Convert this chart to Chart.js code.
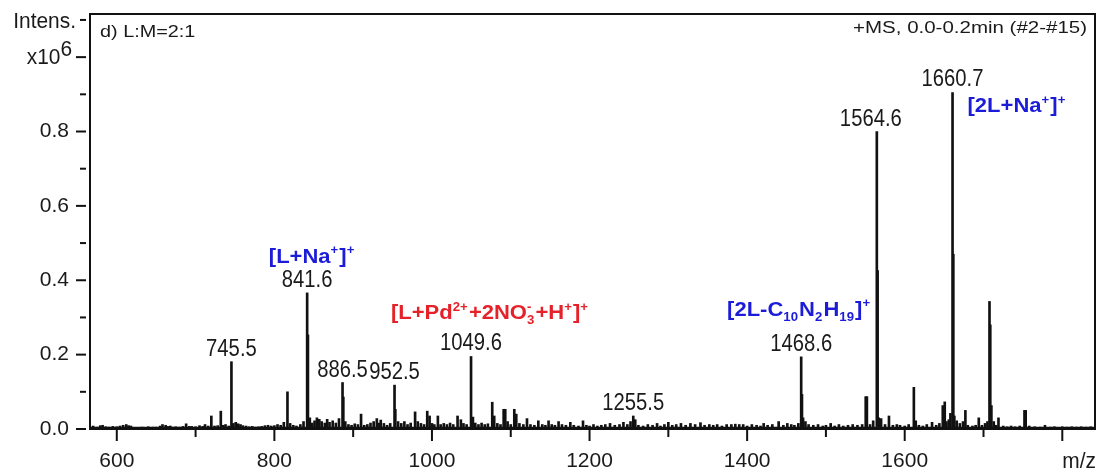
<!DOCTYPE html>
<html>
<head>
<meta charset="utf-8">
<script src="https://cdn.jsdelivr.net/npm/chart.js@4.4.1/dist/chart.umd.min.js"></script>
<style>
  body { margin: 0; background: #fff; }
  #wrap { width: 1103px; height: 473px; }
</style>
</head>
<body>
<div id="wrap"><canvas id="chart"></canvas></div>
<script>
// m/z of each stick and its intensity (x10^6)
const mzValues = [
  566, 570, 575, 579, 582, 586, 590, 595, 600, 604, 608, 612, 615, 618, 625, 632, 640, 646, 650, 655,
  658, 662, 665, 668, 672, 675, 680, 684, 688, 692, 695, 700, 705, 709, 712, 716, 720, 724, 728, 732,
  735, 738, 742, 745.5, 748, 751, 754, 757, 760, 764, 768, 772, 776, 780, 784, 788, 792, 796, 800, 804,
  808, 812, 816.6, 820, 824, 828, 833, 837, 841.6, 842.6, 845, 848, 851, 854, 857, 860, 864, 867, 870, 874,
  878, 882, 886.5, 887.5, 890, 894, 898, 902, 906, 910, 914, 918, 922, 926, 930, 933, 935, 939, 943, 947,
  952.5, 953.5, 957, 961, 965, 969, 973, 978.6, 982, 986, 990, 994, 997, 1000, 1003, 1007.5, 1011, 1015, 1019, 1023,
  1027, 1032.5, 1036.7, 1040, 1044, 1049.6, 1052, 1055, 1059, 1063, 1067, 1071, 1076.5, 1079, 1083, 1087, 1091, 1093, 1096, 1100,
  1104.5, 1107, 1111, 1116, 1120.6, 1125, 1130, 1135, 1140, 1144, 1148, 1152, 1156, 1160.7, 1165, 1170, 1175.6, 1180, 1186, 1191.7,
  1196, 1200, 1205, 1210, 1215, 1220, 1226, 1232, 1238, 1243, 1248, 1252, 1255.5, 1258, 1262, 1268, 1274, 1280, 1285.7, 1290,
  1295, 1300, 1305, 1310, 1316, 1322, 1328, 1334, 1340.8, 1346, 1352, 1357, 1362, 1368, 1374, 1380, 1385, 1390, 1395, 1400,
  1406, 1412, 1417, 1421, 1426, 1432, 1440, 1446, 1451, 1456, 1460, 1465, 1468.6, 1469.6, 1471, 1474, 1478, 1484, 1490, 1496,
  1500, 1506, 1511, 1516.5, 1522, 1528, 1534, 1540, 1546, 1550.5, 1552, 1556, 1560, 1564.6, 1565.6, 1567, 1570, 1575, 1580, 1585,
  1590, 1594, 1600, 1605, 1611.6, 1614, 1618, 1623, 1628, 1634.7, 1640, 1644, 1648.3, 1650.8, 1653, 1656, 1658, 1660.7, 1661.7, 1663,
  1666, 1670, 1674, 1677, 1680, 1686, 1690, 1694, 1698, 1702, 1705, 1707.6, 1708.6, 1710, 1713, 1716, 1719, 1725, 1730, 1735,
  1740, 1746, 1752, 1753.5, 1758, 1765, 1772, 1778, 1785, 1790, 1795, 1800, 1806, 1812, 1818, 1824, 1830, 1836
];
const intensities = [
  0.006, 0.008, 0.005, 0.009, 0.010, 0.006, 0.005, 0.007, 0.006, 0.008, 0.010, 0.012, 0.009, 0.008, 0.004, 0.005, 0.006, 0.005, 0.005, 0.008,
  0.012, 0.010, 0.007, 0.008, 0.005, 0.006, 0.005, 0.007, 0.014, 0.007, 0.007, 0.006, 0.009, 0.007, 0.012, 0.008, 0.035, 0.008, 0.009, 0.048,
  0.010, 0.012, 0.008, 0.181, 0.015, 0.018, 0.014, 0.012, 0.009, 0.008, 0.006, 0.007, 0.005, 0.006, 0.007, 0.009, 0.010, 0.008, 0.009, 0.012,
  0.010, 0.018, 0.100, 0.015, 0.010, 0.008, 0.012, 0.020, 0.366, 0.253, 0.030, 0.016, 0.022, 0.030, 0.026, 0.020, 0.016, 0.026, 0.018, 0.022,
  0.016, 0.028, 0.125, 0.086, 0.020, 0.012, 0.010, 0.014, 0.012, 0.040, 0.010, 0.012, 0.016, 0.020, 0.028, 0.016, 0.024, 0.015, 0.010, 0.015,
  0.118, 0.053, 0.020, 0.015, 0.020, 0.012, 0.016, 0.046, 0.020, 0.015, 0.012, 0.048, 0.035, 0.015, 0.012, 0.035, 0.012, 0.015, 0.012, 0.016,
  0.012, 0.035, 0.025, 0.015, 0.012, 0.195, 0.032, 0.016, 0.012, 0.016, 0.012, 0.014, 0.072, 0.035, 0.015, 0.012, 0.053, 0.053, 0.020, 0.012,
  0.053, 0.040, 0.015, 0.012, 0.028, 0.012, 0.010, 0.022, 0.012, 0.010, 0.022, 0.012, 0.010, 0.020, 0.012, 0.010, 0.018, 0.010, 0.008, 0.022,
  0.010, 0.008, 0.012, 0.008, 0.010, 0.012, 0.015, 0.010, 0.012, 0.018, 0.012, 0.020, 0.035, 0.025, 0.010, 0.008, 0.012, 0.010, 0.015, 0.008,
  0.012, 0.018, 0.010, 0.012, 0.015, 0.010, 0.015, 0.012, 0.017, 0.010, 0.012, 0.010, 0.012, 0.008, 0.012, 0.012, 0.013, 0.012, 0.012, 0.008,
  0.012, 0.010, 0.008, 0.015, 0.010, 0.012, 0.020, 0.010, 0.015, 0.012, 0.010, 0.015, 0.194, 0.093, 0.030, 0.020, 0.012, 0.010, 0.012, 0.008,
  0.010, 0.015, 0.008, 0.012, 0.008, 0.010, 0.012, 0.010, 0.012, 0.087, 0.087, 0.012, 0.022, 0.800, 0.426, 0.030, 0.028, 0.012, 0.035, 0.010,
  0.012, 0.010, 0.008, 0.012, 0.112, 0.022, 0.010, 0.008, 0.012, 0.018, 0.010, 0.015, 0.063, 0.073, 0.020, 0.025, 0.042, 0.905, 0.470, 0.035,
  0.022, 0.015, 0.020, 0.050, 0.010, 0.008, 0.010, 0.030, 0.010, 0.015, 0.020, 0.343, 0.280, 0.063, 0.020, 0.010, 0.030, 0.008, 0.006, 0.008,
  0.006, 0.008, 0.050, 0.050, 0.008, 0.006, 0.005, 0.010, 0.005, 0.006, 0.004, 0.006, 0.005, 0.006, 0.005, 0.006, 0.005, 0.006
];

// peaks that carry their m/z as a label
const labeledPeaks = [745.5, 841.6, 886.5, 952.5, 1049.6, 1255.5, 1468.6, 1564.6, 1660.7];

// ion assignments (plain text, {sup}, {sub} or stacked {sup, sub})
const ionPeaks = [841.6, 1049.6, 1468.6, 1660.7];
const ionNames = [
  ['[L+Na', {sup: '+'}, ']', {sup: '+'}],
  ['[L+Pd', {sup: '2+'}, '+2NO', {sup: '-', sub: '3'}, '+H', {sup: '+'}, ']', {sup: '+'}],
  ['[2L-C', {sub: '10'}, 'N', {sub: '2'}, 'H', {sub: '19'}, ']', {sup: '+'}],
  ['[2L+Na', {sup: '+'}, ']', {sup: '+'}]
];

const titleLeft = 'd) L:M=2:1';
const titleRight = '+MS, 0.0-0.2min (#2-#15)';

const FAMILY = "'Liberation Sans', Arial, Helvetica, sans-serif";
const INK = '#1a1a1a';
const BLUE = '#1c1cd8';
const RED = '#e5222a';

function richWidth(ctx, segs, size) {
  let w = 0;
  segs.forEach(s => {
    if (typeof s === 'string') {
      ctx.font = 'bold ' + size + 'px ' + FAMILY;
      w += ctx.measureText(s).width;
    } else {
      ctx.font = 'bold ' + Math.round(size * 0.62) + 'px ' + FAMILY;
      const a = s.sup ? ctx.measureText(s.sup).width : 0;
      const b = s.sub ? ctx.measureText(s.sub).width : 0;
      w += Math.max(a, b) + 1;
    }
  });
  return w;
}

// x = left edge, y = baseline; sx stretches the text sideways
function drawRich(ctx, segs, x, y, size, color, sx) {
  ctx.save();
  ctx.translate(x, y);
  ctx.scale(sx, 1);
  ctx.fillStyle = color;
  ctx.textAlign = 'left';
  ctx.textBaseline = 'alphabetic';
  let cx = 0;
  segs.forEach(s => {
    if (typeof s === 'string') {
      ctx.font = 'bold ' + size + 'px ' + FAMILY;
      ctx.fillText(s, cx, 0);
      cx += ctx.measureText(s).width;
    } else {
      ctx.font = 'bold ' + Math.round(size * 0.62) + 'px ' + FAMILY;
      let w = 0;
      if (s.sup) { ctx.fillText(s.sup, cx, -size * 0.42); w = ctx.measureText(s.sup).width; }
      if (s.sub) { ctx.fillText(s.sub, cx, size * 0.24); w = Math.max(w, ctx.measureText(s.sub).width); }
      cx += w + 1;
    }
  });
  ctx.restore();
}

// text squeezed or stretched sideways around its anchor
function drawScaled(ctx, text, x, y, sx, align) {
  ctx.save();
  ctx.translate(x, y);
  ctx.scale(sx, 1);
  ctx.textAlign = align;
  ctx.fillText(text, 0, 0);
  ctx.restore();
}

function heightAt(m) {
  return intensities[mzValues.indexOf(m)];
}

const decorPlugin = {
  id: 'decor',
  afterDatasetsDraw(chart) {
    const ctx = chart.ctx;
    const area = chart.chartArea;
    const xs = chart.scales.x;
    const ys = chart.scales.y;

    ctx.save();
    // frame
    ctx.strokeStyle = '#111';
    ctx.lineWidth = 2;
    ctx.strokeRect(area.left, area.top, area.right - area.left, area.bottom - area.top);
    // slightly heavier baseline, as in the original trace
    ctx.beginPath();
    ctx.moveTo(area.left, area.bottom - 1.5);
    ctx.lineTo(area.right, area.bottom - 1.5);
    ctx.lineWidth = 1.5;
    ctx.stroke();
    ctx.lineWidth = 2;

    // x tick marks
    for (let v = 600; v <= 1800; v += 100) {
      const px = xs.getPixelForValue(v);
      ctx.beginPath();
      ctx.moveTo(px, area.bottom);
      ctx.lineTo(px, area.bottom + (v % 200 === 0 ? 12 : 8));
      ctx.stroke();
    }
    // y tick marks, detached from the axis
    for (let k = 0; k <= 11; k++) {
      const py = ys.getPixelForValue(k / 10);
      const major = k % 2 === 0;
      ctx.beginPath();
      ctx.moveTo(area.left - (major ? 14 : 10), py);
      ctx.lineTo(area.left - 4, py);
      ctx.stroke();
    }

    ctx.fillStyle = INK;
    ctx.textBaseline = 'middle';
    ctx.font = '22px ' + FAMILY;
    drawScaled(ctx, 'Intens.', area.left - 14, ys.getPixelForValue(1.1) + 2, 0.95, 'right');
    const y10 = ys.getPixelForValue(1.0) + 1;
    const w6 = ctx.measureText('6').width * 0.95;
    drawScaled(ctx, 'x10', area.left - 18 - w6, y10, 0.95, 'right');
    drawScaled(ctx, '6', area.left - 18 - w6, y10 - 8, 0.95, 'left');

    // axis title in place of the 1800 label
    ctx.textBaseline = 'alphabetic';
    drawScaled(ctx, 'm/z', xs.getPixelForValue(1800), area.bottom + 39, 0.95, 'left');

    // header texts
    ctx.font = '16px ' + FAMILY;
    drawScaled(ctx, titleLeft, area.left + 10, area.top + 23, 1.24, 'left');
    drawScaled(ctx, titleRight, area.right - 8, area.top + 19, 1.28, 'right');

    // peak m/z labels (the 1564.6 label sits a little left of its peak)
    ctx.font = '23px ' + FAMILY;
    labeledPeaks.forEach(m => {
      const px = xs.getPixelForValue(m) + (m === 1564.6 ? -6 : 0);
      const py = ys.getPixelForValue(heightAt(m));
      drawScaled(ctx, m.toFixed(1), px, py - 6, 0.88, 'center');
    });

    // ion assignments
    const size = 20, sx = 1.1;
    const place = [
      {dx: 5, dy: -24, color: BLUE, align: 'center'},
      {dx: 19, dy: -31, color: RED, align: 'center'},
      {dx: -2, dy: -35, color: BLUE, align: 'center'},
      {dx: 15, dy: 26, color: BLUE, align: 'left'}
    ];
    ionPeaks.forEach((m, i) => {
      const p = place[i];
      const px = xs.getPixelForValue(m) + p.dx;
      const base = ys.getPixelForValue(heightAt(m)) - 6 + p.dy;
      const w = richWidth(ctx, ionNames[i], size) * sx;
      const left = p.align === 'center' ? px - w / 2 : px;
      drawRich(ctx, ionNames[i], left, base, size, p.color, sx);
    });
    ctx.restore();
  }
};

const tickFont = { family: FAMILY, size: 21 };

new Chart(document.getElementById('chart'), {
  type: 'bar',
  data: {
    datasets: [{
      data: mzValues.map((m, i) => ({ x: m, y: intensities[i] })),
      backgroundColor: '#111',
      borderWidth: 0,
      barThickness: 2
    }]
  },
  options: {
    responsive: true,
    maintainAspectRatio: false,
    animation: false,
    layout: { padding: { top: 14, right: 8, left: 0, bottom: 0 } },
    plugins: { legend: { display: false }, tooltip: { enabled: false } },
    scales: {
      x: {
        type: 'linear',
        offset: false,
        min: 566,
        max: 1841.5,
        grid: { display: false, drawTicks: false, offset: false },
        border: { display: false },
        ticks: {
          stepSize: 100,
          includeBounds: false,
          autoSkip: false,
          maxRotation: 0,
          padding: 20,
          color: INK,
          font: tickFont,
          callback: v => (v % 200 === 0 && v <= 1600 ? String(v) : '')
        },
        afterFit: s => {
          s.height = 44;
          s.paddingLeft = 0;
          s.paddingRight = 0;
        }
      },
      y: {
        min: 0,
        max: 1.116,
        grid: { display: false, drawTicks: false },
        border: { display: false },
        ticks: {
          stepSize: 0.1,
          includeBounds: false,
          padding: 21,
          color: INK,
          font: tickFont,
          callback: v => {
            const k = Math.round(v * 10);
            if (Math.abs(v * 10 - k) > 0.01) return '';
            return (k % 2 === 0 && k <= 8) ? (k / 10).toFixed(1) : '';
          }
        },
        afterFit: s => {
          s.width = 90;
          s.paddingTop = 0;
          s.paddingBottom = 0;
        }
      }
    }
  },
  plugins: [decorPlugin]
});
</script>
</body>
</html>
